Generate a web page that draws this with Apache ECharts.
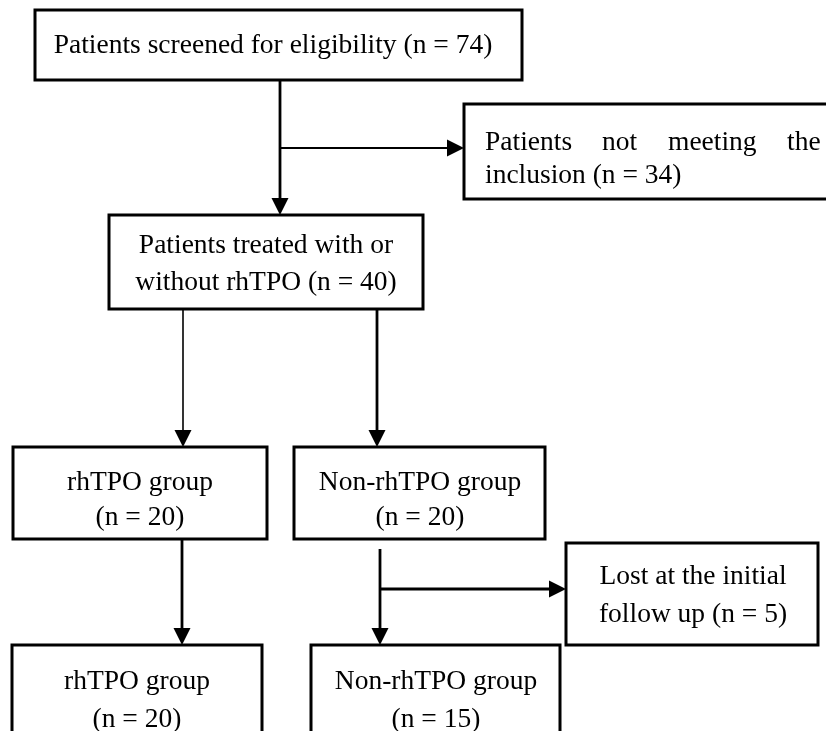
<!DOCTYPE html>
<html>
<head>
<meta charset="utf-8">
<script src="https://cdn.jsdelivr.net/npm/echarts@6/dist/echarts.min.js"></script>
<style>html,body{margin:0;padding:0;background:#fff;}#main{width:826px;height:731px;}</style>
</head>
<body>
<div id="main"></div>
<script>
// ---- content (data) ----
const stageNames = ['Patients screened for eligibility', 'Patients treated with or without rhTPO',
  'rhTPO group', 'Non-rhTPO group', 'rhTPO group', 'Non-rhTPO group'];
const stageCounts = [74, 40, 20, 20, 20, 15];
const exclusionNames = ['Patients not meeting the inclusion', 'Lost at the initial follow up'];
const exclusionCounts = [34, 5];

// ---- layout (positions / styles) ----
const FONT = '27.5px "Liberation Serif", "Times New Roman", serif';
const boxes = [
  {r: [35, 10, 522, 80], cx: 273, lines: [[stageNames[0] + ' (n = ' + stageCounts[0] + ')', 46]]},
  {r: [109, 215, 423, 309], cx: 266, lines: [['Patients treated with or', 246], ['without rhTPO (n = ' + stageCounts[1] + ')', 283]]},
  {r: [13, 447, 267, 539], cx: 140, lines: [[stageNames[2], 483], ['(n = ' + stageCounts[2] + ')', 518]]},
  {r: [294, 447, 545, 539], cx: 420, lines: [[stageNames[3], 483], ['(n = ' + stageCounts[3] + ')', 518]]},
  {r: [12, 645, 262, 780], cx: 137, lines: [[stageNames[4], 682], ['(n = ' + stageCounts[4] + ')', 720]]},
  {r: [311, 645, 560, 780], cx: 436, lines: [[stageNames[5], 682], ['(n = ' + stageCounts[5] + ')', 720]]},
  {r: [566, 543, 818, 645], cx: 693, lines: [['Lost at the initial', 577], ['follow up (n = ' + exclusionCounts[1] + ')', 615]]},
  {r: [464, 104, 845, 199], cx: null, lines: []}
];
const excl1Words = exclusionNames[0].split(' ');
const excl1WordX = [485, 602, 668, 787];
const excl1Line2 = excl1Words[excl1Words.length - 1] + ' (n = ' + exclusionCounts[0] + ')';

const arrows = [
  {x1: 280, y1: 80, x2: 280, y2: 215, w: 2.8, dir: 'down'},
  {x1: 280, y1: 148, x2: 464, y2: 148, w: 2.2, dir: 'right'},
  {x1: 183, y1: 309, x2: 183, y2: 447, w: 1.6, dir: 'down'},
  {x1: 377, y1: 309, x2: 377, y2: 447, w: 2.8, dir: 'down'},
  {x1: 182, y1: 539, x2: 182, y2: 645, w: 2.8, dir: 'down'},
  {x1: 380, y1: 549, x2: 380, y2: 645, w: 2.8, dir: 'down'},
  {x1: 380, y1: 589, x2: 566, y2: 589, w: 2.8, dir: 'right'}
];

const els = [];
boxes.forEach(b => {
  const [x1, y1, x2, y2] = b.r;
  els.push({type: 'rect', shape: {x: x1, y: y1, width: x2 - x1, height: y2 - y1},
    style: {fill: '#fff', stroke: '#000', lineWidth: 3}});
  b.lines.forEach(([t, y]) => {
    els.push({type: 'text', style: {text: t, x: b.cx, y: y, align: 'center', verticalAlign: 'middle', font: FONT, fill: '#000'}});
  });
});
excl1Words.slice(0, 4).forEach((w, i) => {
  els.push({type: 'text', style: {text: w, x: excl1WordX[i], y: 143, align: 'left', verticalAlign: 'middle', font: FONT, fill: '#000'}});
});
els.push({type: 'text', style: {text: excl1Line2, x: 485, y: 176, align: 'left', verticalAlign: 'middle', font: FONT, fill: '#000'}});

const AH = 17, AW = 8.5;
arrows.forEach(a => {
  let ex = a.x2, ey = a.y2;
  if (a.dir === 'down') ey = a.y2 - AH + 2; else ex = a.x2 - AH + 2;
  els.push({type: 'line', shape: {x1: a.x1, y1: a.y1, x2: ex, y2: ey}, style: {stroke: '#000', lineWidth: a.w}});
  const pts = a.dir === 'down'
    ? [[a.x2 - AW, a.y2 - AH], [a.x2 + AW, a.y2 - AH], [a.x2, a.y2]]
    : [[a.x2 - AH, a.y2 - AW], [a.x2 - AH, a.y2 + AW], [a.x2, a.y2]];
  els.push({type: 'polygon', shape: {points: pts}, style: {fill: '#000'}});
});

const chart = echarts.init(document.getElementById('main'), null, {renderer: 'canvas'});
chart.setOption({backgroundColor: '#fff', animation: false, graphic: {elements: els}});
</script>
</body>
</html>
